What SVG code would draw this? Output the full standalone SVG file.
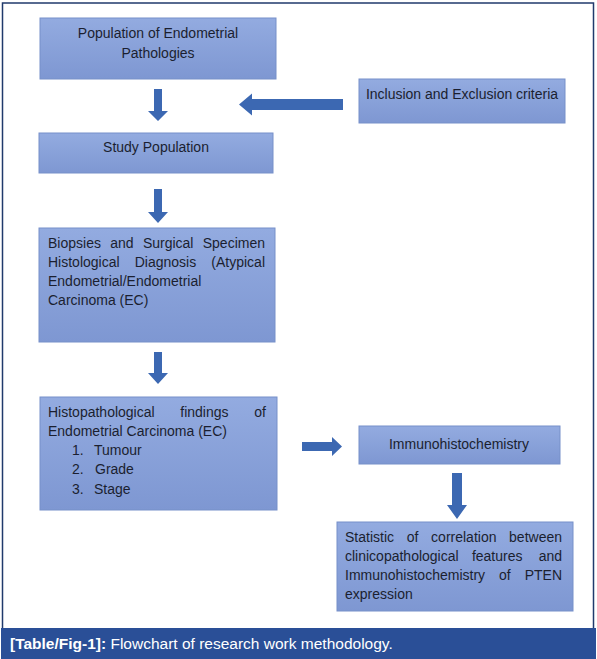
<svg xmlns="http://www.w3.org/2000/svg" width="597" height="659" viewBox="0 0 597 659">
<defs>
<linearGradient id="boxg" x1="0" y1="0" x2="0" y2="1">
<stop offset="0" stop-color="#93abe0"/>
<stop offset="1" stop-color="#7e97d2"/>
</linearGradient>
<style>
.box{fill:url(#boxg);stroke:#7790c9;stroke-width:1}
.t{font-family:"Liberation Sans",Arial,sans-serif;font-size:14px;fill:#1b1f30}
.c{text-anchor:middle}
.e{text-anchor:end}
.arr{fill:#3c68b2}
.cap{font-family:"Liberation Sans",Arial,sans-serif;font-size:15.5px;fill:#ffffff}
</style>
</defs>
<rect x="2.5" y="3" width="591" height="626" fill="#ffffff" stroke="#203a6c" stroke-width="1.5"/>
<g id="connectors">
<path class="arr" d="M154,89 H162 V111 H168 L158,121 L148,111 H154 Z"/>
<path class="arr" d="M343,99 V110 H252 V115.5 L239,104.5 L252,93.5 V99 Z"/>
<path class="arr" d="M154,189 H162 V212 H168 L158,223 L148,212 H154 Z"/>
<path class="arr" d="M154,352 H162 V373 H168 L158,384 L148,373 H154 Z"/>
<path class="arr" d="M302,442 H332 V437 L342,446.5 L332,456 V451 H302 Z"/>
<path class="arr" d="M452,473 H462 V505 H467 L457,519 L447,505 H452 Z"/>
</g>
<g id="n1">
<rect class="box" x="40" y="18" width="236" height="61"/>
<text class="t c" x="158" y="38">Population of Endometrial</text>
<text class="t c" x="158" y="58">Pathologies</text>
</g>
<g id="n2">
<rect class="box" x="359" y="79" width="206" height="44"/>
<text class="t c" x="462" y="99">Inclusion and Exclusion criteria</text>
</g>
<g id="n3">
<rect class="box" x="39" y="133" width="234" height="40"/>
<text class="t c" x="156" y="152">Study Population</text>
</g>
<g id="n4">
<rect class="box" x="39" y="228" width="236" height="114"/>
<text class="t" y="248"><tspan x="48">Biopsies</tspan><tspan x="110.2">and</tspan><tspan x="142.9">Surgical</tspan><tspan class="e" x="265">Specimen</tspan></text>
<text class="t" y="267"><tspan x="48">Histological</tspan><tspan x="134.7">Diagnosis</tspan><tspan class="e" x="265">(Atypical</tspan></text>
<text class="t" x="48" y="286">Endometrial/Endometrial</text>
<text class="t" x="48" y="305">Carcinoma (EC)</text>
</g>
<g id="n5">
<rect class="box" x="40" y="397" width="237" height="113"/>
<text class="t" y="417"><tspan x="48">Histopathological</tspan><tspan x="180.3">findings</tspan><tspan class="e" x="266">of</tspan></text>
<text class="t" x="48" y="436">Endometrial Carcinoma (EC)</text>
<text class="t" y="455"><tspan x="72">1.</tspan><tspan x="94">Tumour</tspan></text>
<text class="t" y="474"><tspan x="72">2.</tspan><tspan x="95">Grade</tspan></text>
<text class="t" y="494"><tspan x="72">3.</tspan><tspan x="94">Stage</tspan></text>
</g>
<g id="n6">
<rect class="box" x="359" y="426" width="201" height="38"/>
<text class="t c" x="459" y="449">Immunohistochemistry</text>
</g>
<g id="n7">
<rect class="box" x="337" y="522" width="236" height="89"/>
<text class="t" y="542"><tspan x="345">Statistic</tspan><tspan x="406.7">of</tspan><tspan x="431.1">correlation</tspan><tspan class="e" x="562">between</tspan></text>
<text class="t" y="561"><tspan x="345">clinicopathological</tspan><tspan x="471.9">features</tspan><tspan class="e" x="562">and</tspan></text>
<text class="t" y="580"><tspan x="345">Immunohistochemistry</tspan><tspan x="499">of</tspan><tspan class="e" x="562">PTEN</tspan></text>
<text class="t" x="345" y="599">expression</text>
</g>
<g id="caption">
<rect x="1" y="628" width="595" height="31" fill="#2a4f97"/>
<text class="cap" x="10" y="649"><tspan font-weight="bold">[Table/Fig-1]:</tspan> Flowchart of research work methodology.</text>
</g>
</svg>
